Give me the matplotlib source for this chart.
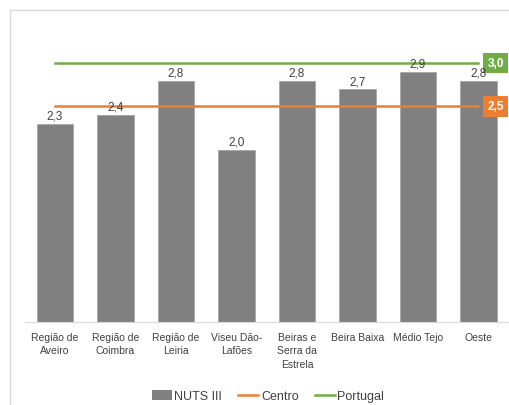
import matplotlib
matplotlib.use("Agg")
import matplotlib.pyplot as plt
from matplotlib.patches import Rectangle
from matplotlib.lines import Line2D
from matplotlib.patches import Patch

categories = ["Região de\nAveiro", "Região de\nCoimbra", "Região de\nLeiria", "Viseu Dão-\nLafões",
              "Beiras e\nSerra da\nEstrela", "Beira Baixa", "Médio Tejo", "Oeste"]
nuts = [2.3, 2.4, 2.8, 2.0, 2.8, 2.7, 2.9, 2.8]
centro = [2.5] * 8
portugal = [3.0] * 8

plt.rcParams['font.family'] = ['Liberation Sans', 'DejaVu Sans']
W, H = 510, 406
fig = plt.figure(figsize=(W / 100, H / 100), dpi=100)

# chart border
fig.patches.append(Rectangle((10 / W, -0.1), 1.2, (H - 11) / H + 0.1, transform=fig.transFigure,
                             fill=False, edgecolor='#d9d9d9', linewidth=1.0))

ax = fig.add_axes([24.75 / W, (H - 323) / H, 484 / W, 3.2 * 86.25 / H])
x = list(range(len(categories)))
ax.bar(x, nuts, width=0.6, color='#808080', edgecolor='#a6a6a6', linewidth=0.6, zorder=2)
ax.plot(x, centro, color='#ED7D31', linewidth=1.8, zorder=3)
ax.plot(x, portugal, color='#70AD47', linewidth=1.8, zorder=3)
ax.set_xlim(-0.5, len(categories) - 0.5)
ax.set_ylim(0, 3.2)

for xi, v in zip(x, nuts):
    ax.annotate(f"{v:.1f}".replace('.', ','), (xi, v), xytext=(0, 1.5), textcoords='offset points',
                ha='center', va='bottom', fontsize=8.5, color='#404040', zorder=6)

for vals, col in ((centro, '#ED7D31'), (portugal, '#70AD47')):
    ax.annotate(f"{vals[-1]:.1f}".replace('.', ','), (x[-1], vals[-1]), xytext=(12.3, 0),
                textcoords='offset points', ha='center', va='center', fontsize=8.5,
                fontweight='bold', color='white', zorder=5, annotation_clip=False,
                bbox=dict(boxstyle='square,pad=0.35', facecolor=col, edgecolor='none'))

ax.set_xticks(x)
ax.set_xticklabels(categories, fontsize=7.5, color='#404040', linespacing=1.45)
ax.tick_params(axis='x', length=0, pad=7)
ax.set_yticks([])
for s in ('top', 'right', 'left'):
    ax.spines[s].set_visible(False)
ax.spines['bottom'].set_color('#d9d9d9')
ax.spines['bottom'].set_linewidth(0.8)

handles = [Patch(facecolor='#808080', edgecolor='none'),
           Line2D([], [], color='#ED7D31', linewidth=1.8),
           Line2D([], [], color='#70AD47', linewidth=1.8)]
fig.legend(handles, ["NUTS III", "Centro", "Portugal"], loc='center', bbox_to_anchor=(268 / W, 1 - 397 / H),
           ncol=3, frameon=False, fontsize=9, labelcolor='#404040', handlelength=1.6,
           handletextpad=0.2, columnspacing=1.3, handleheight=0.9)

fig.savefig("out.png", dpi=100)
